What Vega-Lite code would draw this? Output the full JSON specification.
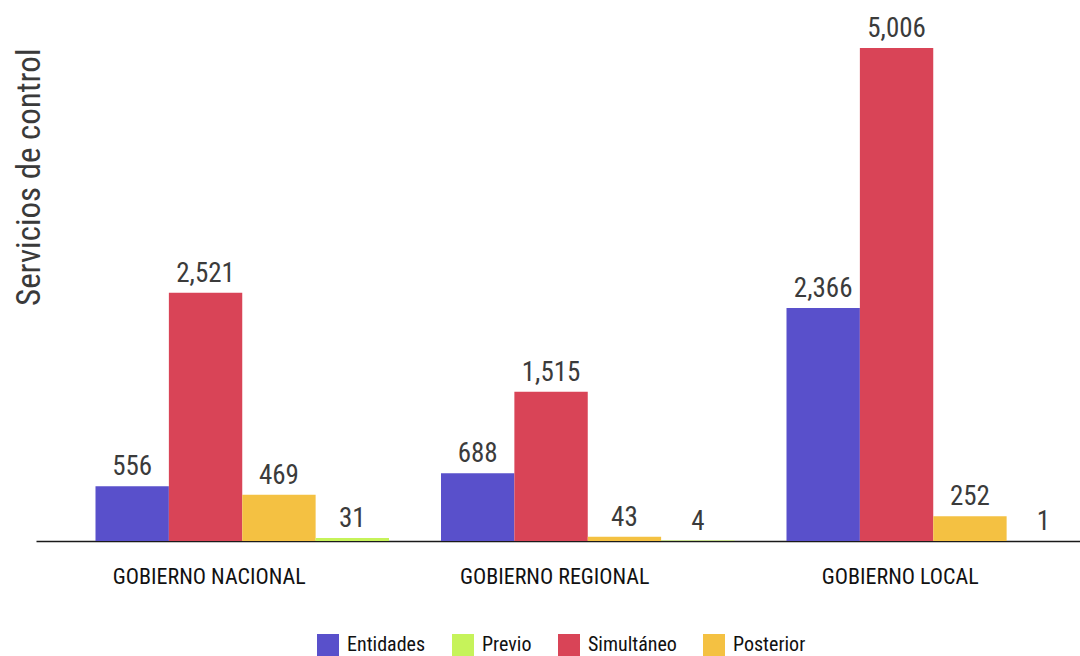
{
  "$schema": "https://vega.github.io/schema/vega-lite/v6.json",
  "width": 1044,
  "height": 493,
  "autosize": "none",
  "padding": {"left": 36, "top": 48, "right": 0, "bottom": 115},
  "background": "white",
  "config": {"view": {"stroke": null}, "font": "'Roboto Condensed', Roboto, sans-serif"},
  "data": {"values": [
    {"nivel": "GOBIERNO NACIONAL", "tipo": "Entidades", "valor": 556},
    {"nivel": "GOBIERNO NACIONAL", "tipo": "Simultáneo", "valor": 2521},
    {"nivel": "GOBIERNO NACIONAL", "tipo": "Posterior", "valor": 469},
    {"nivel": "GOBIERNO NACIONAL", "tipo": "Previo", "valor": 31},
    {"nivel": "GOBIERNO REGIONAL", "tipo": "Entidades", "valor": 688},
    {"nivel": "GOBIERNO REGIONAL", "tipo": "Simultáneo", "valor": 1515},
    {"nivel": "GOBIERNO REGIONAL", "tipo": "Posterior", "valor": 43},
    {"nivel": "GOBIERNO REGIONAL", "tipo": "Previo", "valor": 4},
    {"nivel": "GOBIERNO LOCAL", "tipo": "Entidades", "valor": 2366},
    {"nivel": "GOBIERNO LOCAL", "tipo": "Simultáneo", "valor": 5006},
    {"nivel": "GOBIERNO LOCAL", "tipo": "Posterior", "valor": 252},
    {"nivel": "GOBIERNO LOCAL", "tipo": "Previo", "valor": 1}
  ]},
  "encoding": {
    "x": {
      "field": "nivel",
      "type": "nominal",
      "sort": ["GOBIERNO NACIONAL", "GOBIERNO REGIONAL", "GOBIERNO LOCAL"],
      "scale": {"paddingInner": 0.1505, "paddingOuter": 0.0861, "align": 1},
      "axis": {
        "title": null,
        "domain": true,
        "domainColor": "#1a1a1a",
        "domainWidth": 1.7,
        "ticks": false,
        "tickSize": 0,
        "labelFontSize": 22,
        "labelColor": "#111111",
        "labelPadding": 25,
        "labelOffset": -33,
        "labelAngle": 0,
        "labelBaseline": "top",
        "labelLimit": 400
      }
    },
    "xOffset": {
      "field": "tipo",
      "type": "nominal",
      "sort": ["Entidades", "Simultáneo", "Posterior", "Previo"],
      "scale": {"paddingInner": 0, "paddingOuter": 0}
    },
    "y": {
      "field": "valor",
      "type": "quantitative",
      "scale": {"domain": [0, 5006], "nice": false},
      "axis": {
        "title": "Servicios de control",
        "domain": false,
        "ticks": false,
        "labels": false,
        "grid": false,
        "titleFontSize": 33,
        "titleColor": "#3a3a3a",
        "titleFontWeight": "normal",
        "titleAnchor": "end",
        "titleBaseline": "alphabetic",
        "titlePadding": -3,
        "titleLimit": 600
      }
    }
  },
  "layer": [
    {
      "mark": {"type": "bar"},
      "encoding": {
        "color": {
          "field": "tipo",
          "type": "nominal",
          "scale": {
            "domain": ["Entidades", "Previo", "Simultáneo", "Posterior"],
            "range": ["#5950CB", "#C6F35A", "#D94457", "#F4C142"]
          },
          "legend": {
            "title": null,
            "orient": "none",
            "legendX": 281,
            "legendY": 586,
            "direction": "horizontal",
            "symbolType": "square",
            "symbolSize": 484,
            "symbolStrokeWidth": 0,
            "symbolOpacity": 1,
            "labelFontSize": 20,
            "labelColor": "#111111",
            "labelOffset": 8,
            "labelLimit": 300,
            "columnPadding": 26
          }
        }
      }
    },
    {
      "mark": {"type": "text", "dy": -11, "baseline": "alphabetic", "fontSize": 27, "color": "#3b3b3b"},
      "encoding": {
        "text": {"field": "valor", "type": "quantitative", "format": ","}
      }
    }
  ]
}
